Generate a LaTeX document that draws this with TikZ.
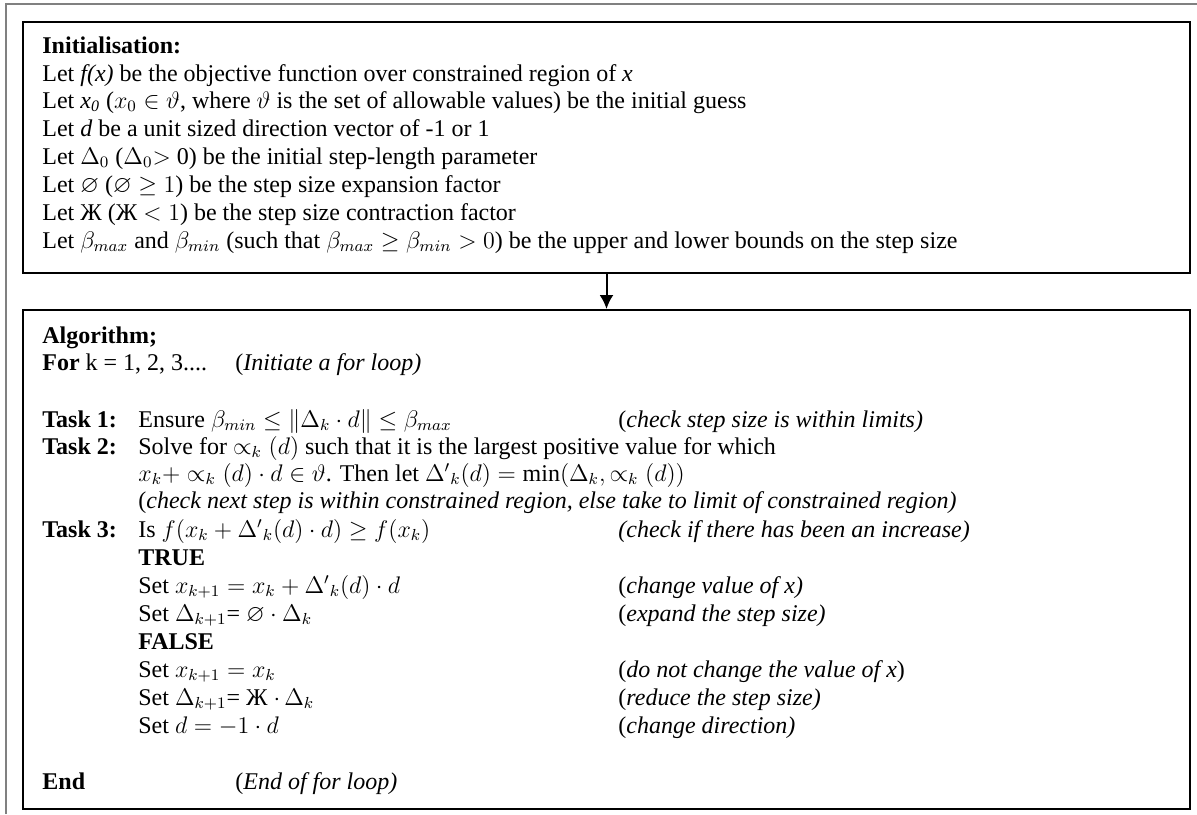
\documentclass[tikz,border=0pt]{standalone}
\usepackage{amsmath}
\usepackage{amssymb}
\usepackage{fontspec}
\setmainfont{Liberation Serif}
\usetikzlibrary{arrows.meta}
\newcommand\zh{Ж}
\newcommand\tsk[1]{\textbf{Task #1:}}

\begin{document}
\begin{tikzpicture}[x=0.5pt, y=-0.5pt,
  box/.style={draw, line width=1pt, anchor=north west, minimum width=583.5pt, inner sep=0pt},
  txt/.style={anchor=base west, inner sep=0pt, font=\fontsize{12}{14}\selectfont},
  note/.style={txt, font=\fontsize{12}{14}\selectfont\itshape}]
\useasboundingbox (0,0) rectangle (1197,814);
\draw [gray, line width=1pt](6,814) -- (6,4) -- (1197,4);
\node[box, minimum height=125.5pt](init) at (22,21){};
\node[box, minimum height=249.5pt](algo) at (22,309){};
\draw [-{Latex[length=7pt,width=7pt]}, line width=1pt](init.south) -- (algo.north);
% initialisation
\node[txt](i0) at (42,53){\textbf{Initialisation:}};
\node[txt](i1) at (42,81){Let \textit{f(x)} be the objective function over constrained region of \textit{x}};
\node[txt](i2) at (42,108){Let \textit{x\textsubscript{0}} ($x_0 \in \vartheta$, where $\vartheta$ is the set of allowable values) be the initial guess};
\node[txt](i3) at (42,136){Let \textit{d} be a unit sized direction vector of -1 or 1};
\node[txt](i4) at (42,164){Let $\Delta_0$ ($\Delta_0$$>$ 0) be the initial step-length parameter};
\node[txt](i5) at (42,192){Let $\varnothing$ ($\varnothing \geq 1$) be the step size expansion factor};
\node[txt](i6) at (42,220){Let \zh{} (\zh{} $< 1$) be the step size contraction factor};
\node[txt](i7) at (42,248){Let $\beta_{max}$ and $\beta_{min}$ (such that $\beta_{max} \geq \beta_{min} > 0$) be the upper and lower bounds on the step size};
% algorithm
\node[txt](a0) at (42,343){\textbf{Algorithm;}};
\node[txt](a1) at (42,370){\textbf{For} k = 1, 2, 3....};
\node[txt](c1) at (235,370){(\textit{Initiate a for loop)}};
\node[txt](t1) at (42,427){\tsk1};
\node[txt](s1) at (138,427){Ensure $\beta_{min} \leq \|\Delta_k \cdot d\| \leq \beta_{max}$};
\node[txt](c2) at (618,427){(\textit{check step size is within limits)}};
\node[txt](t2) at (42,454){\tsk2};
\node[txt](s2) at (138,454){Solve for $\propto_k(d)$ such that it is the largest positive value for which};
\node[txt](s3) at (138,481){$x_k + \propto_k(d) \cdot d \in \vartheta$. Then let ${\Delta'}_k(d) = \min(\Delta_k, \propto_k(d))$};
\node[txt](c3) at (138,508){(\textit{check next step is within constrained region, else take to limit of constrained region)}};
\node[txt](t3) at (42,537){\tsk3};
\node[txt](s4) at (138,537){Is $f(x_k + {\Delta'}_k(d) \cdot d) \geq f(x_k)$};
\node[note](c4) at (618,537){(check if there has been an increase)};
\node[txt](tr) at (138,565){\textbf{TRUE}};
\node[txt](s5) at (138,593){Set $x_{k+1} = x_k + {\Delta'}_k(d) \cdot d$};
\node[txt](c5) at (618,593){(\textit{change value of x)}};
\node[txt](s6) at (138,621){Set $\Delta_{k+1}$= $\varnothing \cdot \Delta_k$};
\node[txt](c6) at (618,621){(\textit{expand the step size)}};
\node[txt](fa) at (138,649){\textbf{FALSE}};
\node[txt](s7) at (138,677){Set $x_{k+1} = x_k$};
\node[txt](c7) at (618,677){(\textit{do not change the value of x})};
\node[txt](s8) at (138,705){Set $\Delta_{k+1}$= \zh{} $\cdot\, \Delta_k$};
\node[txt](c8) at (618,705){(\textit{reduce the step size)}};
\node[txt](s9) at (138,733){Set $d = -1 \cdot d$};
\node[txt](c9) at (618,733){(\textit{change direction)}};
\node[txt](en) at (42,789){\textbf{End}};
\node[txt](c10) at (235,789){(\textit{End of for loop)}};
\end{tikzpicture}
\end{document}
